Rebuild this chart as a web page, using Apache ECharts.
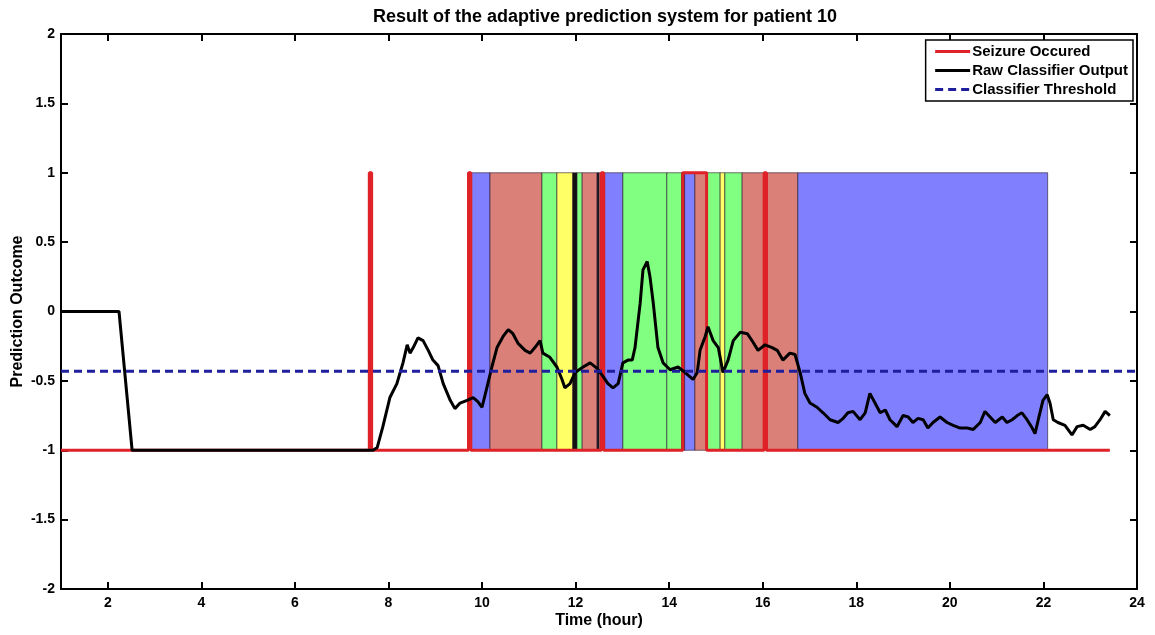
<!DOCTYPE html>
<html>
<head>
<meta charset="utf-8">
<title>Adaptive prediction - patient 10</title>
<script src="https://cdn.jsdelivr.net/npm/echarts@6/dist/echarts.min.js"></script>
<style>
  html, body { margin: 0; padding: 0; background: #fff; }
  #chart { width: 1155px; height: 635px; }
</style>
</head>
<body>
<div id="chart"></div>
<script>
// x ticks (hours)
const hourTicks = [2, 4, 6, 8, 10, 12, 14, 16, 18, 20, 22, 24]

// seizure pulses (hour on / hour off)
const seizureStart = [7.59, 9.71, 12.55, 14.29, 16.03]
const seizureEnd = [7.64, 9.76, 12.60, 14.80, 16.08]
const baselineEnd = 23.42

// raw classifier output
const rawTime = [
  1, 2.24, 2.52, 7.67, 7.76, 7.88, 8.03, 8.18, 8.31, 8.40, 8.46, 8.53, 8.63, 8.74, 8.85, 8.95,
  9.06, 9.17, 9.32, 9.42, 9.53, 9.68, 9.81, 9.91, 10.00, 10.11, 10.21, 10.32, 10.45, 10.56,
  10.66, 10.77, 10.92, 11.03, 11.13, 11.24, 11.30, 11.45, 11.60, 11.71, 11.77, 11.88, 11.99,
  12.16, 12.31, 12.46, 12.59, 12.69, 12.80, 12.91, 13.01, 13.12, 13.21, 13.27, 13.38, 13.44,
  13.53, 13.59, 13.66, 13.76, 13.87, 14.02, 14.19, 14.34, 14.51, 14.60, 14.66, 14.77, 14.83,
  14.94, 15.05, 15.15, 15.26, 15.37, 15.52, 15.67, 15.79, 15.90, 16.05, 16.20, 16.31, 16.43,
  16.58, 16.69, 16.80, 16.90, 17.01, 17.16, 17.29, 17.44, 17.61, 17.72, 17.82, 17.93, 18.08,
  18.19, 18.29, 18.40, 18.51, 18.62, 18.72, 18.87, 19.00, 19.11, 19.21, 19.32, 19.43, 19.53,
  19.64, 19.79, 19.94, 20.07, 20.22, 20.37, 20.50, 20.65, 20.75, 20.86, 20.97, 21.12, 21.22,
  21.33, 21.44, 21.54, 21.65, 21.76, 21.82, 21.89, 21.99, 22.08, 22.14, 22.21, 22.31, 22.46,
  22.61, 22.72, 22.85, 23.00, 23.10, 23.21, 23.32, 23.42
]
const rawOutput = [
  0, 0, -1, -1, -0.98, -0.83, -0.62, -0.52, -0.37, -0.24, -0.30, -0.26, -0.19, -0.21, -0.28, -0.35,
  -0.39, -0.52, -0.64, -0.70, -0.66, -0.64, -0.62, -0.65, -0.69, -0.54, -0.40, -0.26, -0.18, -0.13,
  -0.16, -0.23, -0.28, -0.30, -0.26, -0.21, -0.30, -0.33, -0.40, -0.49, -0.55, -0.52, -0.44,
  -0.40, -0.37, -0.41, -0.47, -0.52, -0.55, -0.52, -0.37, -0.35, -0.35, -0.26, 0.06, 0.30,
  0.36, 0.25, 0.06, -0.26, -0.37, -0.42, -0.40, -0.44, -0.49, -0.44, -0.28, -0.18, -0.11,
  -0.21, -0.26, -0.44, -0.35, -0.21, -0.15, -0.16, -0.22, -0.28, -0.24, -0.26, -0.28, -0.35,
  -0.30, -0.31, -0.44, -0.59, -0.66, -0.69, -0.73, -0.78, -0.80, -0.77, -0.73, -0.72, -0.78,
  -0.73, -0.59, -0.66, -0.73, -0.71, -0.78, -0.83, -0.75, -0.76, -0.80, -0.77, -0.78, -0.84,
  -0.80, -0.76, -0.80, -0.82, -0.84, -0.84, -0.85, -0.80, -0.72, -0.76, -0.80, -0.76, -0.80,
  -0.78, -0.75, -0.73, -0.78, -0.84, -0.88, -0.78, -0.64, -0.60, -0.66, -0.78, -0.80, -0.82,
  -0.89, -0.83, -0.82, -0.85, -0.83, -0.78, -0.72, -0.75
]

const threshold = -0.43

// prediction state bands (hour from / hour to / state)
const bandStart = [9.74, 10.17, 11.28, 11.60, 11.94, 12.03, 12.14, 12.46, 12.50, 12.62, 13.01, 13.95, 14.27, 14.33, 14.55, 14.81, 15.09, 15.19, 15.56, 16.75]
const bandEnd = [10.17, 11.28, 11.60, 11.94, 12.03, 12.14, 12.46, 12.50, 12.62, 13.01, 13.95, 14.27, 14.33, 14.55, 14.81, 15.09, 15.19, 15.56, 16.75, 22.09]
const bandState = ['B', 'S', 'G', 'Y', 'K', 'G', 'S', 'K', 'S', 'B', 'G', 'G', 'K', 'B', 'S', 'G', 'Y', 'G', 'S', 'B']

const stateColor = { B: '#8080ff', S: '#da8079', G: '#80ff80', Y: '#ffff66', K: '#111111' }
const FONT = 'Liberation Sans, Arial, Helvetica, sans-serif'

const seizureLine = [[1, -1]]
seizureStart.forEach((s, i) => {
  seizureLine.push([s, -1], [s, 1], [seizureEnd[i], 1], [seizureEnd[i], -1])
})
seizureLine.push([baselineEnd, -1])

const rawLine = rawTime.map((t, i) => [t, rawOutput[i]])
const bands = bandStart.map((s, i) => [s, bandEnd[i], bandState[i]])

const chart = echarts.init(document.getElementById('chart'))

const axisLine = { show: true, onZero: false, lineStyle: { color: '#000', width: 2 } }
const tick = { show: true, inside: true, length: 7, lineStyle: { color: '#000', width: 2 } }

chart.setOption({
  animation: false,
  backgroundColor: '#fff',
  title: {
    text: 'Result of the adaptive prediction system for patient 10',
    left: 600,
    textAlign: 'center',
    top: 3,
    textStyle: { fontFamily: FONT, fontSize: 18, fontWeight: 'bold', color: '#000' }
  },
  legend: {
    data: ['Seizure Occured', 'Raw Classifier Output', 'Classifier Threshold'],
    orient: 'vertical',
    right: 22,
    top: 40,
    padding: [4, 5, 4, 8],
    itemWidth: 35,
    itemHeight: 16,
    itemGap: 4,
    backgroundColor: '#fff',
    borderColor: '#000',
    borderWidth: 1.5,
    itemStyle: { opacity: 0 },
    lineStyle: { width: 3 },
    textStyle: { fontFamily: FONT, fontSize: 15, fontWeight: 'bold', color: '#000', padding: [0, 0, 0, -3] }
  },
  grid: { left: 61, right: 18, top: 34, bottom: 46, outerBoundsMode: 'none' },
  xAxis: [
    {
      type: 'value',
      min: 1,
      max: 24,
      name: 'Time (hour)',
      nameLocation: 'middle',
      nameGap: 24,
      nameMoveOverlap: false,
      nameTextStyle: { fontFamily: FONT, fontSize: 16, fontWeight: 'bold', color: '#000' },
      axisLine: axisLine,
      axisTick: Object.assign({ customValues: hourTicks }, tick),
      axisLabel: { customValues: hourTicks, fontFamily: FONT, fontSize: 14, fontWeight: 'bold', color: '#000', margin: 7 },
      splitLine: { show: false }
    },
    {
      type: 'value',
      position: 'top',
      min: 1,
      max: 24,
      axisLine: axisLine,
      axisTick: Object.assign({ customValues: hourTicks }, tick),
      axisLabel: { show: false },
      splitLine: { show: false }
    }
  ],
  yAxis: [
    {
      type: 'value',
      min: -2,
      max: 2,
      interval: 0.5,
      name: 'Prediction Outcome',
      nameLocation: 'middle',
      nameGap: 35,
      nameMoveOverlap: false,
      nameTextStyle: { fontFamily: FONT, fontSize: 16, fontWeight: 'bold', color: '#000' },
      axisLine: axisLine,
      axisTick: tick,
      axisLabel: { fontFamily: FONT, fontSize: 14, fontWeight: 'bold', color: '#000', margin: 6 },
      splitLine: { show: false }
    },
    {
      type: 'value',
      position: 'right',
      min: -2,
      max: 2,
      interval: 0.5,
      axisLine: axisLine,
      axisTick: tick,
      axisLabel: { show: false },
      splitLine: { show: false }
    }
  ],
  series: [
    {
      name: 'bands',
      type: 'custom',
      silent: true,
      encode: { x: [0, 1], y: -1 },
      data: bands,
      renderItem(params, api) {
        const p1 = api.coord([api.value(0), 1])
        const p2 = api.coord([api.value(1), -1])
        const state = bands[params.dataIndex][2]
        return {
          type: 'rect',
          shape: { x: p1[0], y: p1[1], width: p2[0] - p1[0], height: p2[1] - p1[1] },
          style: { fill: stateColor[state], stroke: 'rgba(40,20,40,0.6)', lineWidth: 1 }
        }
      },
      z: 1
    },
    {
      name: 'Seizure Occured',
      type: 'line',
      data: seizureLine,
      symbol: 'none',
      color: '#df2228',
      lineStyle: { color: '#df2228', width: 3 },
      z: 2
    },
    {
      name: 'Raw Classifier Output',
      type: 'line',
      data: rawLine,
      symbol: 'none',
      color: '#000',
      lineStyle: { color: '#000', width: 3 },
      z: 3
    },
    {
      name: 'Classifier Threshold',
      type: 'line',
      data: [[1, threshold], [24, threshold]],
      symbol: 'none',
      color: '#1f1f9e',
      lineStyle: { color: '#1f1f9e', width: 3, type: [8, 5] },
      z: 4
    }
  ]
})
</script>
</body>
</html>
